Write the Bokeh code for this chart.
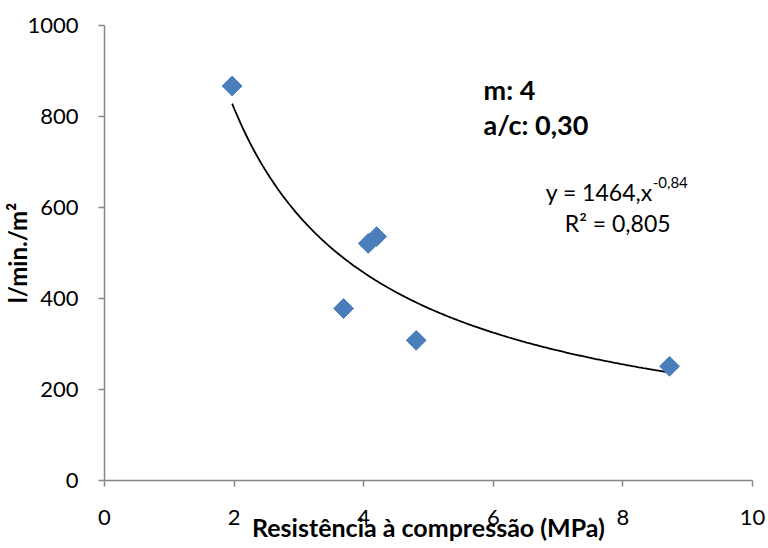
import numpy as np
from bokeh.plotting import figure
from bokeh.models import Label, FixedTicker, ColumnDataSource
from bokeh.embed import file_html
from bokeh.resources import INLINE

# ---- data ----
resistencia_mpa = [1.97, 4.07, 4.20, 3.69, 4.81, 8.72]
vazao_l_min_m2 = [867, 521, 536, 378, 308, 251]

# power trendline (as printed on the chart)
coef_a = 1464
coef_b = -0.84
r_squared = 0.805

x_ticks = [0, 2, 4, 6, 8, 10]
y_ticks = [0, 200, 400, 600, 800, 1000]

annot_m = "m: 4"
annot_ac = "a/c: 0,30"

FONT = "Lato"

p = figure(width=768, height=548, output_backend="svg", toolbar_location=None,
           x_range=(0, 10), y_range=(0, 1000),
           min_border_left=104, min_border_right=16, min_border_top=25, min_border_bottom=68)
p.outline_line_color = None
p.xgrid.grid_line_color = None
p.ygrid.grid_line_color = None
p.background_fill_color = "white"
p.border_fill_color = "white"

for ax in (p.xaxis[0], p.yaxis[0]):
    ax.axis_line_color = "#868686"
    ax.axis_line_width = 1.5
    ax.major_tick_line_color = "#868686"
    ax.major_tick_line_width = 1.5
    ax.major_tick_in = 0
    ax.major_tick_out = 6
    ax.minor_tick_line_color = None
    ax.major_label_text_font = FONT
    ax.major_label_text_font_size = "22px"
    ax.major_label_text_color = "black"
    ax.axis_label_text_font = FONT
    ax.axis_label_text_font_style = "bold"
    ax.axis_label_text_color = "black"

p.xaxis.ticker = FixedTicker(ticks=x_ticks)
p.yaxis.ticker = FixedTicker(ticks=y_ticks)
p.xaxis.major_label_standoff = 23
p.yaxis.major_label_standoff = 20
p.xaxis.axis_label = "Resistência à compressão (MPa)"
p.xaxis.axis_label_text_font_size = "25px"
p.xaxis.axis_label_standoff = -16
p.yaxis.axis_label = "l/min./m²"
p.yaxis.axis_label_text_font_size = "24px"
p.yaxis.axis_label_standoff = -8

# trendline computed from its printed coefficients, over the data span
xs = np.linspace(min(resistencia_mpa), max(resistencia_mpa), 200)
ys = coef_a * xs ** coef_b
p.line(xs, ys, line_color="black", line_width=1.8)

src = ColumnDataSource(dict(x=resistencia_mpa, y=vazao_l_min_m2))
p.scatter("x", "y", source=src, marker="square", size=14, angle=np.pi / 4,
          fill_color="#4A7EBB", line_color="#4A7EBB")

# annotations
p.add_layout(Label(x=5.85, y=859, text=annot_m, text_font=FONT, text_font_style="bold",
                   text_font_size="27px", text_baseline="alphabetic", text_color="black"))
p.add_layout(Label(x=5.85, y=782, text=annot_ac, text_font=FONT, text_font_style="bold",
                   text_font_size="27px", text_baseline="alphabetic", text_color="black"))

def fmt(v):
    return str(v).replace(".", ",")

p.add_layout(Label(x=8.46, y=635, text=f"y = {coef_a},x", text_font=FONT, text_color="black",
                   text_font_size="23px", text_align="right", text_baseline="alphabetic"))
p.add_layout(Label(x=8.46, y=655, text=fmt(coef_b), text_font=FONT, text_color="black",
                   text_font_size="15px", text_align="left", text_baseline="alphabetic"))
p.add_layout(Label(x=7.92, y=567, text=f"R² = {fmt(r_squared)}", text_font=FONT, text_color="black",
                   text_font_size="23px", text_align="center", text_baseline="alphabetic"))

open("out.html", "w").write(file_html(p, INLINE))
